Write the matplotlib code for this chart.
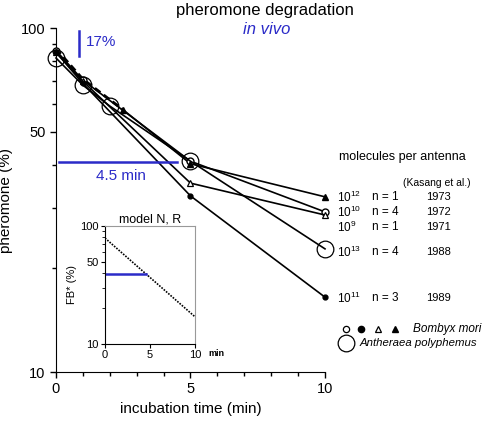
import numpy as np
import matplotlib
matplotlib.use("Agg")
import matplotlib.pyplot as plt
from matplotlib.ticker import FixedLocator, NullFormatter

plt.rcParams['font.family'] = ['Liberation Sans', 'DejaVu Sans']

###########################################################################
# Data (incubation time in min, pheromone in %)
###########################################################################
t_12 = [0, 1, 2.5, 5, 10]          # 1e12, filled triangle
v_12 = [87, 71, 57.8, 40.3, 32.3]
t_10 = [0, 1, 5, 10]               # 1e10, small open circle
v_10 = [86, 70.5, 41.0, 29.2]
t_9 = [0, 1, 5, 10]                # 1e9, open triangle
v_9 = [85, 70, 35.4, 28.6]
t_13 = [0, 1, 2, 5, 10]            # 1e13, Antheraea (big circle)
v_13 = [81.8, 68.2, 59.3, 41.0, 22.8]
t_11 = [0, 1, 5, 10]               # 1e11, filled dot
v_11 = [85, 69, 32.5, 16.5]

half_time = 4.5                    # min
half_level = v_13[0] / 2
bar_top, bar_bottom = 98, 83       # 17% bar

model_t = [0, 10]
model_v = [79, 17]
model_half = 4.5

rows = [("10", "12", "n = 1", "1973", 197),
        ("10", "10", "n = 4", "1972", 212),
        ("10", "9", "n = 1", "1971", 227),
        ("10", "13", "n = 4", "1988", 252),
        ("10", "11", "n = 3", "1989", 298)]

blue = '#2b2bc8'
W, H = 484, 432

fig = plt.figure(figsize=(4.84, 4.32), dpi=100)
ax = fig.add_axes([56 / W, 1 - 372 / H, 269 / W, 344 / H])

lw = 1.2
# filled triangle series: dashed start, solid after
ax.plot(t_12[:3], v_12[:3], color='k', lw=2, ls=(0, (2.5, 1.5)), zorder=3)
ax.plot(t_12[2:], v_12[2:], color='k', lw=lw, zorder=3)
ax.plot(t_12[2:], v_12[2:], 'k^', ms=4.5, clip_on=False, zorder=4)
ax.plot(t_10, v_10, color='k', lw=lw, marker='o', ms=5, mfc='white', mew=1, clip_on=False, zorder=3)
ax.plot(t_9, v_9, color='k', lw=lw, marker='^', ms=5, mfc='white', mew=0.9, clip_on=False, zorder=3)
ax.plot(t_13, v_13, color='k', lw=lw, marker='o', ms=12, mfc='none', mew=0.9, clip_on=False, zorder=3)
ax.plot(t_11, v_11, color='k', lw=lw, marker='o', ms=3.5, clip_on=False, zorder=3)

ax.set_yscale('log')
ax.set_xlim(0, 10)
ax.set_ylim(10, 100)
ax.yaxis.set_major_locator(FixedLocator([10, 50, 100]))
ax.yaxis.set_minor_locator(FixedLocator([20, 30, 40, 60, 70, 80, 90]))
ax.yaxis.set_minor_formatter(NullFormatter())
ax.set_yticklabels(['10', '50', '100'])
ax.set_xticks([0, 5, 10])
ax.set_xticks(np.arange(0, 11), minor=True)
ax.tick_params(labelsize=10.5, length=4, width=1)
ax.tick_params(which='minor', length=3, width=1)
for s in ['top', 'right']:
    ax.spines[s].set_visible(False)
ax.set_xlabel('incubation time (min)', fontsize=11, labelpad=4)
ax.set_ylabel('pheromone (%)', fontsize=11, labelpad=6)

# blue annotations
ax.plot([0.1, half_time], [half_level, half_level], color=blue, lw=1.8, zorder=5)
ax.text(half_time / 2 + 0.15, half_level * 0.91, '4.5 min', color=blue, fontsize=11,
        ha='center', va='center')
ax.plot([0.85, 0.85], [bar_top, bar_bottom], color=blue, lw=1.8, clip_on=False)
ax.text(1.1, 91, '17%', color=blue, fontsize=11, va='center')

fig.text(265 / W, 1 - 10 / H, 'pheromone degradation', fontsize=12, ha='center', va='center')
fig.text(267 / W, 1 - 30 / H, 'in vivo', fontsize=12, ha='center', va='center',
         style='italic', color=blue)

# right-hand table
fig.text(339 / W, 1 - 157 / H, 'molecules per antenna', fontsize=9, va='center')
fig.text(403 / W, 1 - 183 / H, '(Kasang et al.)', fontsize=7.5, va='center')
for base, exp, n, year, y in rows:
    fig.text(337 / W, 1 - y / H, r'$\mathregular{%s^{%s}}$' % (base, exp), fontsize=8.5, va='center')
    fig.text(372 / W, 1 - y / H, n, fontsize=8.5, va='center')
    fig.text(426 / W, 1 - y / H, year, fontsize=8, va='center')

# legend
leg = fig.add_axes([0, 0, 1, 1], facecolor='none')
leg.set_xlim(0, W)
leg.set_ylim(H, 0)
leg.axis('off')
leg.plot([346], [329], 'o', ms=4.5, mfc='white', mec='k', mew=0.9)
leg.plot([361], [329], 'o', ms=4.5, color='k')
leg.plot([378], [329], '^', ms=5, mfc='white', mec='k', mew=0.9)
leg.plot([395], [329], '^', ms=5, color='k')
leg.text(413, 329, 'Bombyx mori', fontsize=8.5, style='italic', va='center')
leg.plot([346], [343], 'o', ms=12, mfc='none', mec='k', mew=0.9)
leg.text(360, 343, 'Antheraea polyphemus', fontsize=8.2, style='italic', va='center')

# inset: model
axi = fig.add_axes([105 / W, 1 - 344 / H, 90 / W, 118 / H])
axi.plot(model_t, model_v, color='k', lw=1.2, ls=(0, (1, 0.8)))
axi.plot([0, model_half], [model_v[0] / 2] * 2, color=blue, lw=1.8)
axi.set_yscale('log')
axi.set_xlim(0, 10)
axi.set_ylim(10, 100)
axi.yaxis.set_major_locator(FixedLocator([10, 50, 100]))
axi.yaxis.set_minor_locator(FixedLocator([20, 30, 40, 60, 70, 80, 90]))
axi.yaxis.set_minor_formatter(NullFormatter())
axi.set_yticklabels(['10', '50', '100'])
axi.set_xticks([0, 5, 10])
axi.tick_params(labelsize=8, length=3, width=0.8, pad=1.5)
axi.tick_params(which='minor', length=2, width=0.6)
for s in ['top', 'right']:
    axi.spines[s].set_color('#999999')
axi.set_title('model N, R', fontsize=9, pad=2)
axi.set_ylabel('FB* (%)', fontsize=8, labelpad=2)
fig.text(208 / W, 1 - 354 / H, 'min', fontsize=6.5, weight='bold', va='center')

fig.savefig('out.png', dpi=100)
